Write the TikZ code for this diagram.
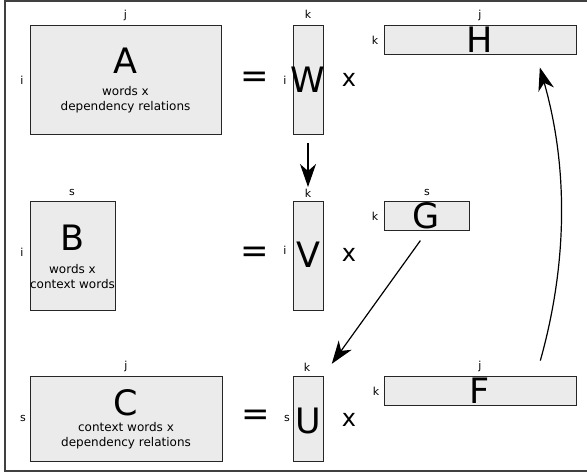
\documentclass[tikz,border=0pt]{standalone}
\usepackage{fontspec}
\setmainfont{DejaVu Sans}
\usetikzlibrary{arrows.meta}
\begin{document}
\begin{tikzpicture}[x=1pt,y=-1pt,
 mat/.style={draw=black!85, fill=black!8, line width=0.9pt, inner sep=0pt, outer sep=0pt},
 big/.style={font=\fontsize{35}{35}\selectfont, inner sep=0pt},
 sub/.style={font=\fontsize{12}{15}\selectfont, align=center, inner sep=0pt},
 idx/.style={font=\fontsize{11}{11}\selectfont, inner sep=0pt},
 eqop/.style={font=\fontsize{34}{34}\selectfont, inner sep=0pt},
 mulop/.style={font=\fontsize{24}{24}\selectfont, inner sep=0pt},
 arr/.style={-{Stealth[length=23pt,width=16pt,inset=7pt]}, line width=1.2pt}]
\useasboundingbox (0,0) rectangle (587,474);
\draw[black!75, line width=1.3pt] (5,1) rectangle (590,471);
% row A
\node[mat, minimum width=191pt, minimum height=109pt] (A) at (125.5,79.5) {};
\node[big] (Al) at (125.5,60.5) {A};
\node[sub] (As) at (125.5,99.5) {words x\\dependency relations};
\node[idx] (Aj) at (125.5,15) {j};
\node[idx] (Ai) at (22,80) {i};
\node[eqop] (eq1) at (255,80) {=};
\node[mat, minimum width=30pt, minimum height=109pt] (W) at (308,79.5) {};
\node[big] (Wl) at (308,80) {W};
\node[idx] (Wk) at (308,14) {k};
\node[idx] (Wi) at (285,80) {i};
\node[mulop] (x1) at (349,80) {x};
\node[mat, minimum width=192pt, minimum height=29pt] (H) at (480,39.5) {};
\node[big] (Hl) at (480,39.5) {H};
\node[idx] (Hj) at (480,15) {j};
\node[idx] (Hk) at (375,40) {k};
% row B
\node[mat, minimum width=85pt, minimum height=109pt] (B) at (72.5,255.5) {};
\node[big] (Bl) at (72.5,237.5) {B};
\node[sub] (Bs) at (72.5,276.5) {words x\\context words};
\node[idx] (Bs2) at (72,192) {s};
\node[idx] (Bi) at (22,252) {i};
\node[eqop] (eq2) at (255,255) {=};
\node[mat, minimum width=30pt, minimum height=109pt] (V) at (308,255.5) {};
\node[big] (Vl) at (308,255) {V};
\node[idx] (Vk) at (308,193) {k};
\node[idx] (Vi) at (285,250) {i};
\node[mulop] (x2) at (349,255) {x};
\node[mat, minimum width=85pt, minimum height=29pt] (G) at (426.5,215.5) {};
\node[big] (Gl) at (426.5,216) {G};
\node[idx] (Gs) at (427,192) {s};
\node[idx] (Gk) at (375,216) {k};
% row C
\node[mat, minimum width=192pt, minimum height=85pt] (C) at (126,418.5) {};
\node[big] (Cl) at (126,403) {C};
\node[sub] (Cs) at (126,436) {context words x\\dependency relations};
\node[idx] (Cj) at (126,366) {j};
\node[idx] (Cs2) at (23,418) {s};
\node[eqop] (eq3) at (256,418) {=};
\node[mat, minimum width=30pt, minimum height=85pt] (U) at (308,418.5) {};
\node[big] (Ul) at (308,421) {U};
\node[idx] (Uk) at (307,367) {k};
\node[idx] (Us) at (287,418) {s};
\node[mulop] (x3) at (349,420) {x};
\node[mat, minimum width=192pt, minimum height=29pt] (F) at (480,390.5) {};
\node[big] (Fl) at (480,391) {F};
\node[idx] (Fj) at (480,366) {j};
\node[idx] (Fk) at (376,391) {k};
% arrows
\draw[arr, shorten <=9pt, shorten >=14pt] (W.south) -- (V.north);
\draw[arr, shorten <=13pt, shorten >=15pt] ([xshift=1.5pt]G.south) -- (U.north east);
\draw[arr, shorten <=16pt, shorten >=14pt] ([xshift=56pt]F.north) .. controls (568,262) and (568,166) .. ([xshift=56pt]H.south);
\end{tikzpicture}
\end{document}
